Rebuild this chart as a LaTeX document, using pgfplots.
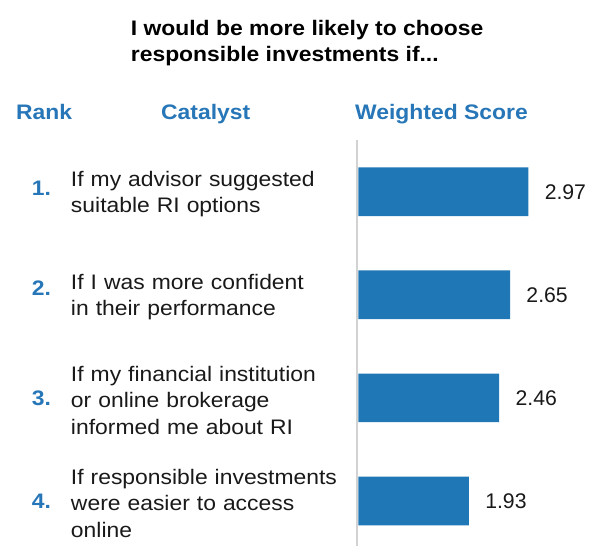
\documentclass[border=0pt]{standalone}
\usepackage{fontspec}
\setmainfont[FakeStretch=1.09]{Liberation Sans}
\newfontfamily\numfont{Liberation Sans}
\usepackage{pgfplots}
\pgfplotsset{compat=1.18}
\definecolor{barblue}{RGB}{31,119,182}
\definecolor{hdrblue}{RGB}{38,118,184}
\definecolor{txt}{RGB}{25,25,25}
\definecolor{axgray}{RGB}{210,210,210}
\begin{document}
\begin{tikzpicture}[x=0.5pt,y=-0.5pt]
\path[use as bounding box] (0,0) rectangle (589,546);
\begin{axis}[
  at={(178.5pt,-70pt)}, anchor=north west,
  scale only axis, width=116pt, height=203pt,
  xmin=-0.026, xmax=4.03,
  ymin=0.4985, ymax=4.4365, y dir=reverse,
  xbar, bar width=0.472, bar shift=0pt,
  clip=false,
  axis x line=none, axis y line*=left,
  y axis line style={draw=axgray, line width=1pt, -},
  ytick={1,2,3,4},
  yticklabels={{If my advisor suggested\\suitable RI options},
               {If I was more confident\\in their performance},
               {If my financial institution\\or online brokerage\\informed me about RI},
               {If responsible investments\\were easier to access\\online}},
  ytick style={draw=none}, major tick length=0pt,
  yticklabel style={anchor=west, align=left, text width=140pt, inner sep=0pt,
    xshift=-143.2pt, yshift=-1.1pt, font=\fontsize{10.5}{13.2}\selectfont, text=txt},
  nodes near coords,
  nodes near coords style={font=\numfont\fontsize{10.6}{12}\selectfont, text=txt, anchor=west, inner sep=0pt, xshift=8pt},
  /pgf/number format/fixed, /pgf/number format/precision=2,
  /pgf/number format/fixed zerofill, /pgf/number format/assume math mode=true,
]
\addplot[fill=barblue, draw=none] coordinates {(2.97,1) (2.65,2) (2.46,3) (1.93,4)};
\end{axis}
\node[anchor=base west, inner sep=0pt, font=\bfseries\fontsize{10.5}{12}\selectfont, text=black] at (130.5,35) {I would be more likely to choose};
\node[anchor=base west, inner sep=0pt, font=\bfseries\fontsize{10.5}{12}\selectfont, text=black] at (130.5,61.7) {responsible investments if...};
\begin{scope}[every node/.style={anchor=base west, inner sep=0pt, font=\bfseries\fontsize{10.5}{12}\selectfont, text=hdrblue}]
\node at (15.8,119.3) {Rank};
\node at (160.8,119.3) {Catalyst};
\node at (354.8,119.3) {Weighted Score};
\node at (31.5,195) {1.};
\node at (31.5,295) {2.};
\node at (31.5,405) {3.};
\node at (31.5,508) {4.};
\end{scope}
\end{tikzpicture}
\end{document}
